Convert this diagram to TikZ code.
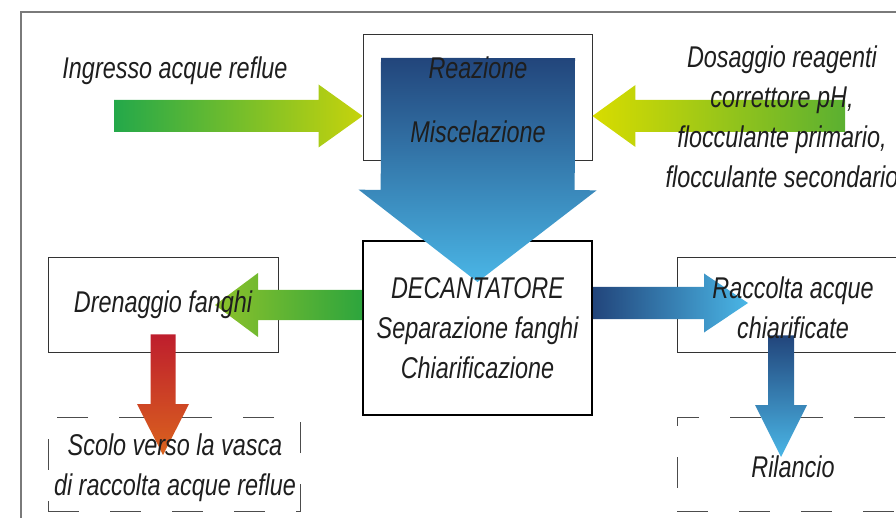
\documentclass[tikz,border=0pt]{standalone}
\usepackage{fontspec}
\setmainfont{Liberation Sans}[FakeStretch=0.78]
\usepackage{xcolor}
\definecolor{cNavy}{HTML}{22457B}
\definecolor{cSky}{HTML}{4AB6E6}
\definecolor{cGreen}{HTML}{23A84A}
\definecolor{cLime}{HTML}{C6D30C}
\definecolor{cYellow}{HTML}{D8DC00}
\definecolor{cLeaf}{HTML}{5BB031}
\definecolor{cGrass}{HTML}{2DA53D}
\definecolor{cApple}{HTML}{8EC22A}
\definecolor{cRed}{HTML}{BE1E2D}
\definecolor{cOrange}{HTML}{DA631E}
\definecolor{cText}{HTML}{1E1E1E}
\definecolor{cFrame}{HTML}{7A7A7A}
\usepackage{tikz}
\usetikzlibrary{positioning, calc}

\newcommand{\fatarrow}[6]{%
  \path ($(#3)!#6!(#2)$) coordinate (fa-h);
  \shade[#1] ($(#2)!#4!90:(#3)$) -- ($(fa-h)!#4!90:(#3)$) -- ($(fa-h)!#5!90:(#3)$) -- (#3)
    -- ($(fa-h)!#5!-90:(#3)$) -- ($(fa-h)!#4!-90:(#3)$) -- ($(#2)!#4!-90:(#3)$) -- cycle;
}

\begin{document}
\begin{tikzpicture}[x=1pt, y=-1pt,
    box/.style={draw=black!80, line width=0.9pt, rectangle, inner sep=0pt},
    deckbox/.style={draw=black, line width=2pt, rectangle, inner sep=0pt},
    dashbox/.style={draw=black!70, line width=0.9pt, rectangle, inner sep=0pt,
                    dash pattern=on 31pt off 31pt},
    lbl/.style={font=\itshape\fontsize{30}{40}\selectfont, text=cText,
                align=center, inner sep=0pt}
]
\useasboundingbox (0,0) rectangle (896,518);
\clip (0,0) rectangle (896,518);
\draw[cFrame, line width=1.2pt] (21,12) rectangle (930,540);

\node[box, minimum width=229pt, minimum height=126pt] (reaz) at (477.5,97) {};
\node[deckbox, minimum width=229pt, minimum height=174pt] (dec) at (477.5,328) {};
\node[box, minimum width=230pt, minimum height=95pt] (dren) at (163,304.5) {};
\node[box, minimum width=243pt, minimum height=95pt] (racc) at (798.5,304.5) {};
\node[dashbox, minimum width=252pt, minimum height=94pt] (scolo) at (174,464) {};
\node[dashbox, minimum width=243pt, minimum height=94pt] (ril) at (798.5,464) {};

\coordinate (inS) at (114,116);
\coordinate (inT) at (reaz.west |- inS);
\coordinate (dsS) at (845,116);
\coordinate (dsT) at (reaz.east |- dsS);
\coordinate (mixS) at (478,58);
\coordinate (mixT) at ($(dec.north)+(0,42)$);
\coordinate (fgT) at (215,305);
\coordinate (fgS) at (dec.west |- fgT);
\coordinate (raT) at (748,303);
\coordinate (raS) at (dec.east |- raT);
\coordinate (rdT) at (163,455);
\coordinate (rdS) at ($(rdT |- dren.south)+(0,-18)$);
\coordinate (bdT) at (781,457);
\coordinate (bdS) at ($(bdT |- racc.south)+(0,-17)$);

\fatarrow{left color=cGreen, right color=cLime}{inS}{inT}{16pt}{31.5pt}{44pt}
\fatarrow{left color=cYellow, right color=cLeaf}{dsS}{dsT}{16pt}{31pt}{43pt}
\fatarrow{top color=cNavy, bottom color=cSky}{mixS}{mixT}{97pt}{119pt}{92pt}
\fatarrow{left color=cApple, right color=cGrass}{fgS}{fgT}{15pt}{32pt}{43pt}
\fatarrow{left color=cNavy, right color=cSky}{raS}{raT}{16pt}{29.5pt}{44pt}
\fatarrow{top color=cRed, bottom color=cOrange}{rdS}{rdT}{12.5pt}{26pt}{51pt}
\fatarrow{top color=cNavy, bottom color=cSky}{bdS}{bdT}{13pt}{26pt}{52pt}

\node[lbl] (inL) at (175,71) {Ingresso acque reflue};
\node[lbl] (dsL) at (782,117) {Dosaggio reagenti\\correttore pH,\\flocculante primario,\\flocculante secondario};
\node[lbl] (reazL) at (478,100) {Reazione\\[24pt]Miscelazione};
\node[lbl] (decL) at (dec.center) {DECANTATORE\\Separazione fanghi\\Chiarificazione};
\node[lbl] (drenL) at (dren.center) {Drenaggio fanghi};
\node[lbl] (raccL) at (793,308) {Raccolta acque\\chiarificate};
\node[lbl] (scoloL) at (175,468) {Scolo verso la vasca\\di raccolta acque reflue};
\node[lbl] (rilL) at (793,467) {Rilancio};
\end{tikzpicture}
\end{document}
